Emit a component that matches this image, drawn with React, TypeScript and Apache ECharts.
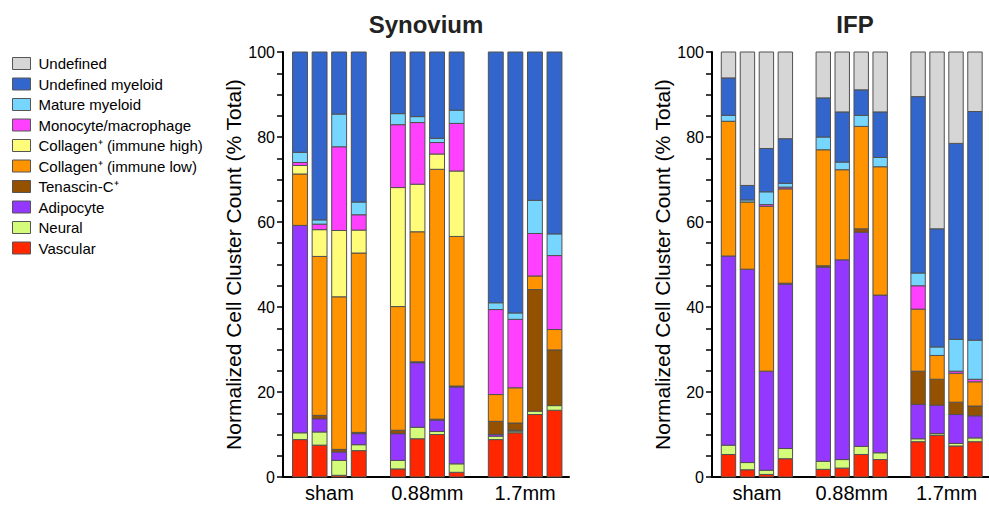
import React, { useEffect, useRef } from "react";
import * as echarts from "echarts";

// ---- categories ----
const groups = ["sham", "0.88mm", "1.7mm"];
const barsPerGroup = 4;
const panels = ["Synovium", "IFP"];

// stack order bottom -> top
const cellTypes = [
  "Vascular",
  "Neural",
  "Adipocyte",
  "Tenascin-C⁺",
  "Collagen⁺ (immune low)",
  "Collagen⁺ (immune high)",
  "Monocyte/macrophage",
  "Mature myeloid",
  "Undefined myeloid",
  "Undefined",
];
const cellColors = [
  "#ff2600",
  "#d4fb79",
  "#9437ff",
  "#945200",
  "#ff9300",
  "#fffc79",
  "#ff40ff",
  "#76d6ff",
  "#3366cc",
  "#d6d6d6",
];

// ---- Synovium values (% of total), 12 bars: sham x4, 0.88mm x4, 1.7mm x4 ----
const synVascular = [8.8, 7.5, 0.4, 6.2, 1.9, 9.0, 10.0, 1.1, 8.8, 10.4, 14.7, 15.7];
const synNeural = [1.6, 3.1, 3.5, 1.4, 2.0, 2.7, 0.7, 2.0, 0.8, 0.4, 0.8, 1.1];
const synAdipocyte = [48.8, 3.1, 2.0, 2.6, 6.3, 15.2, 2.7, 18.1, 0.4, 0.2, 0, 0];
const synTenascin = [0, 0.8, 0.6, 0.3, 0.8, 0.2, 0.2, 0.2, 3.1, 1.7, 28.6, 13.1];
const synCollagenLow = [12.1, 37.4, 35.9, 42.2, 29.1, 30.6, 58.8, 35.2, 6.3, 8.3, 3.2, 4.8];
const synCollagenHigh = [2.0, 6.3, 15.6, 5.4, 28.0, 11.2, 3.6, 15.4, 0, 0, 0, 0];
const synMonocyte = [0.7, 1.3, 19.7, 3.6, 14.8, 14.5, 2.7, 11.2, 20.0, 16.1, 10.0, 17.4];
const synMature = [2.4, 1.0, 7.7, 3.0, 2.6, 1.4, 1.0, 3.1, 1.6, 1.5, 7.8, 5.1];
const synUndefMyeloid = [23.6, 39.5, 14.6, 35.3, 14.5, 15.2, 20.3, 13.7, 59.0, 61.4, 34.9, 42.8];
const synUndefined = [0, 0, 0, 0, 0, 0, 0, 0, 0, 0, 0, 0];

// ---- IFP values ----
const ifpVascular = [5.3, 1.7, 0.6, 4.3, 1.8, 2.1, 5.3, 4.1, 8.3, 9.8, 7.3, 8.3];
const ifpNeural = [2.2, 1.7, 1.0, 2.4, 1.9, 2.0, 1.9, 1.6, 0.7, 0.4, 0.6, 0.9];
const ifpAdipocyte = [44.5, 45.5, 23.3, 38.7, 45.7, 47.0, 50.4, 37.1, 8.1, 6.7, 6.8, 5.2];
const ifpTenascin = [0, 0, 0, 0.2, 0.3, 0, 0.8, 0, 7.8, 6.1, 2.9, 2.3];
const ifpCollagenLow = [31.7, 15.8, 38.8, 22.2, 27.3, 21.2, 24.1, 30.2, 14.6, 5.6, 6.8, 5.7];
const ifpCollagenHigh = [0, 0, 0, 0, 0, 0, 0, 0, 0, 0, 0, 0];
const ifpMonocyte = [0, 0, 0.4, 0.4, 0, 0, 0, 0, 5.5, 0, 0.5, 0.6];
const ifpMature = [1.4, 0.5, 3.0, 0.9, 3.0, 1.8, 2.6, 2.2, 3.0, 2.0, 7.5, 9.2];
const ifpUndefMyeloid = [8.8, 3.4, 10.2, 10.5, 9.2, 11.8, 6.0, 10.7, 41.5, 27.8, 46.1, 53.8];
const ifpUndefined = [6.1, 31.4, 22.7, 20.4, 10.8, 14.1, 8.9, 14.1, 10.5, 41.6, 21.5, 14.0];

const yTicks = [0, 20, 40, 60, 80, 100];

const panelData = [
  [synVascular, synNeural, synAdipocyte, synTenascin, synCollagenLow, synCollagenHigh, synMonocyte, synMature, synUndefMyeloid, synUndefined],
  [ifpVascular, ifpNeural, ifpAdipocyte, ifpTenascin, ifpCollagenLow, ifpCollagenHigh, ifpMonocyte, ifpMature, ifpUndefMyeloid, ifpUndefined],
];

const FONT = "'Liberation Sans', Arial, Helvetica, sans-serif";
const GROUP_STEP = 5; // slots per group (4 bars + 1 gap)

function barPos(i: number) {
  const g = Math.floor(i / barsPerGroup);
  const j = i % barsPerGroup;
  return g * GROUP_STEP + j - (barsPerGroup - 1) / 2;
}

export default function App() {
  const ref = useRef<HTMLDivElement>(null);
  useEffect(() => {
    if (!ref.current) return;
    const chart = echarts.init(ref.current, null, { renderer: "svg" });

    const gridLefts = [283, 712];
    const grids = gridLefts.map((l) => ({ left: l, top: 52, width: 286, height: 425 }));

    const xAxes = panels.map((_, p) => ({
      type: "value",
      gridIndex: p,
      min: -2.369,
      max: 12.24,
      splitLine: { show: false },
      axisLine: { show: true, onZero: false, lineStyle: { color: "#000", width: 2 } },
      axisTick: { show: false },
      axisLabel: {
        customValues: groups.map((_, g) => g * GROUP_STEP),
        formatter: (v: number) => groups[Math.round(v / GROUP_STEP)] ?? "",
        fontSize: 20,
        color: "#000",
        fontFamily: FONT,
        margin: 6,
        showMinLabel: true,
        showMaxLabel: true,
      },
    }));

    const yAxes = panels.map((_, p) => ({
      type: "value",
      gridIndex: p,
      min: 0,
      max: 100,
      interval: 5,
      name: "Normalized Cell Cluster Count (% Total)",
      nameLocation: "middle",
      nameGap: 38,
      nameTextStyle: { fontSize: 21, color: "#000", fontFamily: FONT },
      splitLine: { show: false },
      axisLine: { show: true, onZero: false, lineStyle: { color: "#000", width: 2 } },
      axisTick: { show: true, length: 6, lineStyle: { color: "#000", width: 1.5 } },
      axisLabel: {
        fontSize: 16,
        color: "#000",
        fontFamily: FONT,
        margin: 8,
        formatter: (v: number) => (yTicks.includes(v) ? String(v) : ""),
      },
    }));

    const series: any[] = [];
    panels.forEach((_, p) => {
      const cols = panelData[p];
      const n = cols[0].length;
      const cum = new Array(n).fill(0);
      cellTypes.forEach((name, k) => {
        const vals = cols[k];
        const data = vals.map((v, i) => {
          const s = cum[i];
          cum[i] += v;
          return [barPos(i), s, s + v];
        });
        const color = cellColors[k];
        series.push({
          type: "custom",
          name,
          xAxisIndex: p,
          yAxisIndex: p,
          coordinateSystem: "cartesian2d",
          itemStyle: { color, borderColor: "#555", borderWidth: 1 },
          encode: { x: 0, y: [1, 2] },
          data,
          renderItem: (params: any, api: any) => {
            const x = api.value(0);
            const s = api.value(1);
            const e = api.value(2);
            if (!(e - s > 0)) return null;
            const p0 = api.coord([x, s]);
            const p1 = api.coord([x, e]);
            const w = api.size([0.76, 0])[0];
            return {
              type: "rect",
              shape: { x: p0[0] - w / 2, y: p1[1], width: w, height: p0[1] - p1[1] },
              style: { fill: color, stroke: "#505050", lineWidth: 1 },
            };
          },
        });
      });
    });

    const legendOrder = cellTypes.map((_, k) => cellTypes.length - 1 - k);

    chart.setOption({
      animation: false,
      backgroundColor: "#fff",
      grid: grids,
      xAxis: xAxes,
      yAxis: yAxes,
      legend: {
        orient: "vertical",
        left: 12,
        top: 56,
        padding: 0,
        itemWidth: 18,
        itemHeight: 12,
        itemGap: 5.5,
        icon: "rect",
        selectedMode: false,
        textStyle: { fontSize: 15, color: "#000", fontFamily: FONT, lineHeight: 15, padding: [0, 0, 0, 3] },
        data: legendOrder.map((k) => ({
          name: cellTypes[k],
          itemStyle: { color: cellColors[k], borderColor: "#555", borderWidth: 1 },
        })),
      },
      graphic: panels.map((t, p) => ({
        type: "text",
        x: gridLefts[p] + 143,
        y: 12,
        style: {
          text: t,
          font: `bold 24px ${FONT}`,
          fill: "#222",
          textAlign: "center",
          textVerticalAlign: "top",
        },
      })),
      series,
    });

    return () => chart.dispose();
  }, []);

  return (
    <div
      ref={ref}
      style={{ position: "fixed", left: 0, top: 0, width: 989, height: 506, background: "#fff" }}
    />
  );
}
